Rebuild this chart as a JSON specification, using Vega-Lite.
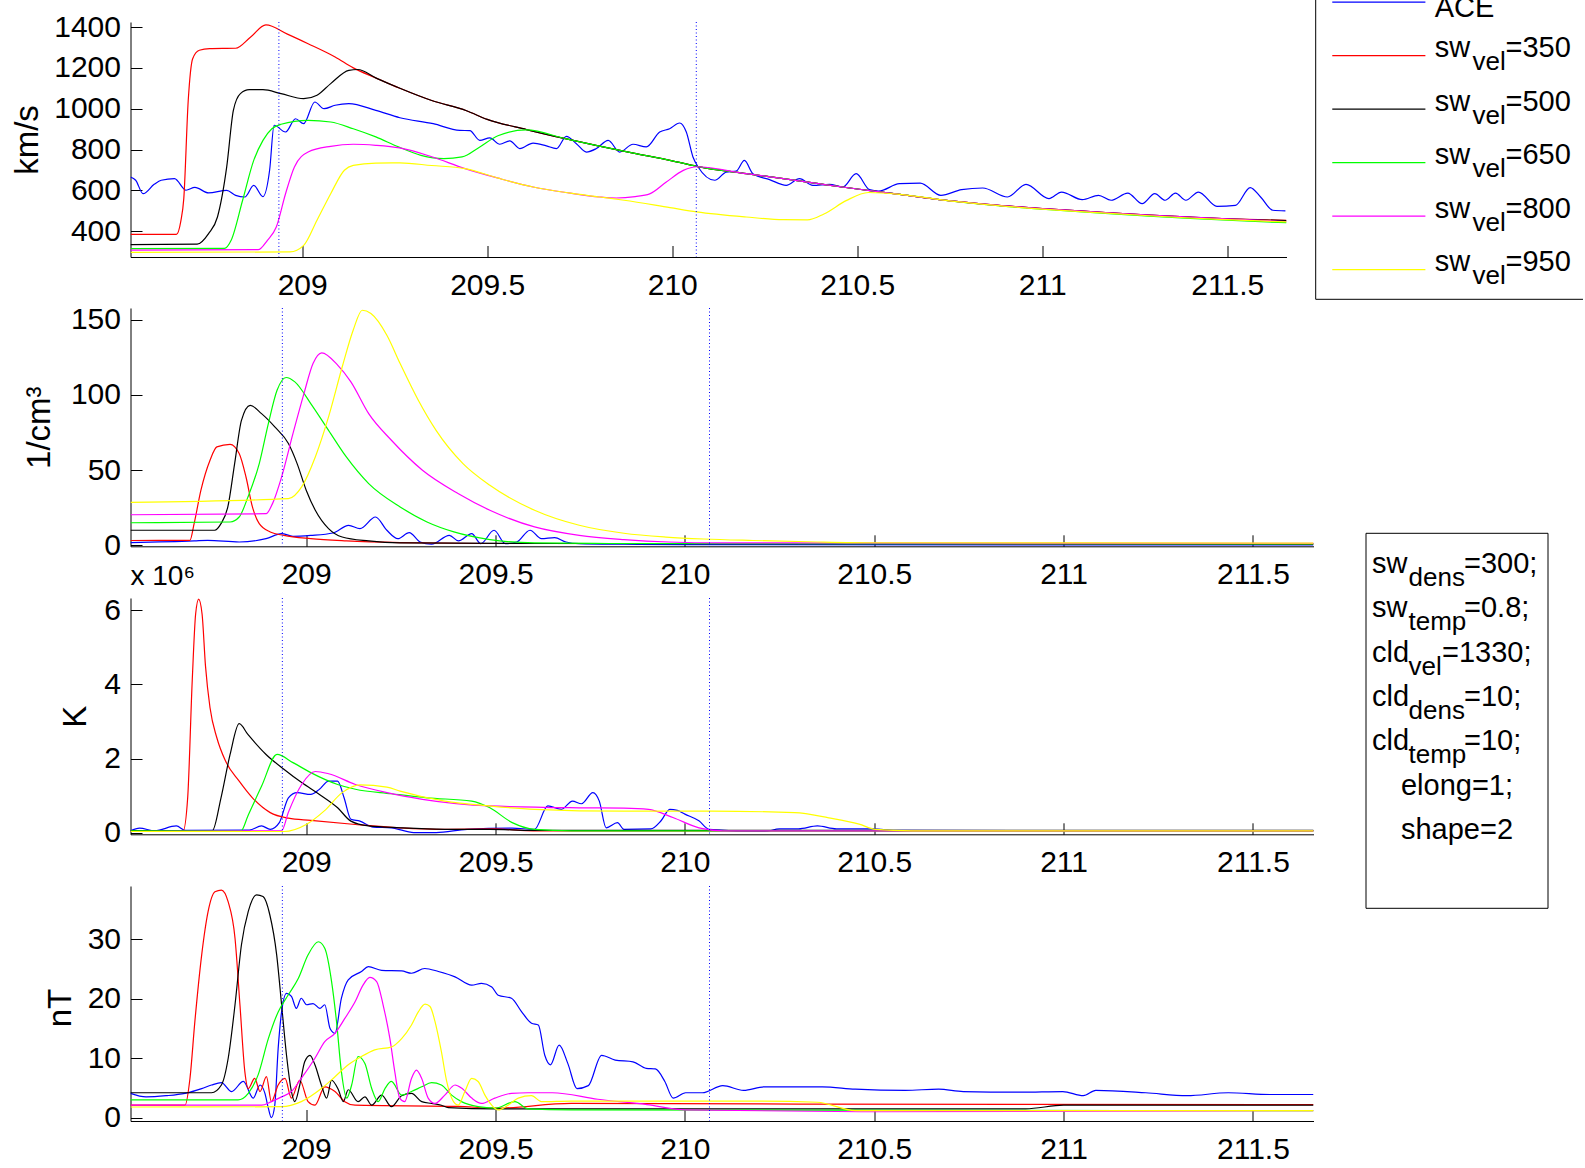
{
  "$schema": "https://vega.github.io/schema/vega-lite/v6.json",
  "background": "white",
  "padding": {"left": 10.5, "top": -10, "right": 0, "bottom": 0},
  "bounds": "flush",
  "spacing": 51,
  "config": {
    "font": "Liberation Sans",
    "view": {"stroke": null},
    "axis": {
      "domainColor": "#000000", "tickColor": "#000000", "labelColor": "#000000", "titleColor": "#000000",
      "labelFont": "Liberation Sans", "titleFont": "Liberation Sans",
      "labelFontSize": 30, "titleFontSize": 33, "titleFontWeight": "normal",
      "grid": false, "tickSize": -11.5, "tickWidth": 1, "domainWidth": 1,
      "labelFlush": false, "labelOverlap": false
    },
    "axisX": {"labelPadding": 25},
    "axisY": {"labelPadding": 21.5},
    "text": {"color": "#000000", "font": "Liberation Sans"}
  },
  "datasets": {
    "crossings": [{"t": 208.937}, {"t": 210.065}],
    "legendRows": [
      {"s": "ACE", "a": "ACE"},
      {"s": "350", "a": "sw", "b": "vel", "c": "=350"},
      {"s": "500", "a": "sw", "b": "vel", "c": "=500"},
      {"s": "650", "a": "sw", "b": "vel", "c": "=650"},
      {"s": "800", "a": "sw", "b": "vel", "c": "=800"},
      {"s": "950", "a": "sw", "b": "vel", "c": "=950"}
    ],
    "boxLines": [
      {"line": 1, "a": "sw", "b": "dens", "c": "=300;"},
      {"line": 2, "a": "sw", "b": "temp", "c": "=0.8;"},
      {"line": 3, "a": "cld", "b": "vel", "c": "=1330;"},
      {"line": 4, "a": "cld", "b": "dens", "c": "=10;"},
      {"line": 5, "a": "cld", "b": "temp", "c": "=10;"},
      {"line": 6, "full": "elong=1;"},
      {"line": 7, "full": "shape=2"}
    ],
    "vel": [
      {"s":"ACE","t":208.536,"y":666},{"s":"ACE","t":208.55,"y":650},{"s":"ACE","t":208.57,"y":584},{"s":"ACE","t":208.6,"y":630},{"s":"ACE","t":208.619,"y":650},{"s":"ACE","t":208.655,"y":658},{"s":"ACE","t":208.686,"y":601},{"s":"ACE","t":208.71,"y":615},{"s":"ACE","t":208.747,"y":588},{"s":"ACE","t":208.796,"y":600},{"s":"ACE","t":208.82,"y":576},{"s":"ACE","t":208.845,"y":568},{"s":"ACE","t":208.869,"y":625},{"s":"ACE","t":208.894,"y":570},{"s":"ACE","t":208.912,"y":700},{"s":"ACE","t":208.924,"y":919},{"s":"ACE","t":208.955,"y":886},{"s":"ACE","t":208.982,"y":951},{"s":"ACE","t":209.004,"y":927},{"s":"ACE","t":209.034,"y":1033},{"s":"ACE","t":209.059,"y":1000},{"s":"ACE","t":209.089,"y":1017},{"s":"ACE","t":209.126,"y":1025},{"s":"ACE","t":209.199,"y":992},{"s":"ACE","t":209.264,"y":956},{"s":"ACE","t":209.354,"y":927},{"s":"ACE","t":209.426,"y":894},{"s":"ACE","t":209.453,"y":893},{"s":"ACE","t":209.48,"y":845},{"s":"ACE","t":209.507,"y":857},{"s":"ACE","t":209.534,"y":826},{"s":"ACE","t":209.561,"y":843},{"s":"ACE","t":209.588,"y":805},{"s":"ACE","t":209.624,"y":832},{"s":"ACE","t":209.66,"y":818},{"s":"ACE","t":209.687,"y":805},{"s":"ACE","t":209.714,"y":865},{"s":"ACE","t":209.741,"y":829},{"s":"ACE","t":209.768,"y":788},{"s":"ACE","t":209.795,"y":805},{"s":"ACE","t":209.827,"y":845},{"s":"ACE","t":209.858,"y":788},{"s":"ACE","t":209.894,"y":826},{"s":"ACE","t":209.93,"y":813},{"s":"ACE","t":209.966,"y":886},{"s":"ACE","t":209.993,"y":902},{"s":"ACE","t":210.02,"y":930},{"s":"ACE","t":210.038,"y":886},{"s":"ACE","t":210.056,"y":764},{"s":"ACE","t":210.07,"y":715},{"s":"ACE","t":210.115,"y":650},{"s":"ACE","t":210.146,"y":690},{"s":"ACE","t":210.173,"y":695},{"s":"ACE","t":210.195,"y":747},{"s":"ACE","t":210.218,"y":682},{"s":"ACE","t":210.263,"y":653},{"s":"ACE","t":210.308,"y":625},{"s":"ACE","t":210.344,"y":658},{"s":"ACE","t":210.38,"y":625},{"s":"ACE","t":210.425,"y":630},{"s":"ACE","t":210.461,"y":617},{"s":"ACE","t":210.497,"y":682},{"s":"ACE","t":210.533,"y":604},{"s":"ACE","t":210.558,"y":597},{"s":"ACE","t":210.614,"y":633},{"s":"ACE","t":210.67,"y":636},{"s":"ACE","t":210.726,"y":576},{"s":"ACE","t":210.782,"y":604},{"s":"ACE","t":210.839,"y":612},{"s":"ACE","t":210.906,"y":568},{"s":"ACE","t":210.956,"y":630},{"s":"ACE","t":211.018,"y":560},{"s":"ACE","t":211.052,"y":592},{"s":"ACE","t":211.108,"y":555},{"s":"ACE","t":211.152,"y":576},{"s":"ACE","t":211.186,"y":552},{"s":"ACE","t":211.231,"y":587},{"s":"ACE","t":211.27,"y":535},{"s":"ACE","t":211.304,"y":584},{"s":"ACE","t":211.332,"y":552},{"s":"ACE","t":211.36,"y":587},{"s":"ACE","t":211.388,"y":552},{"s":"ACE","t":211.422,"y":592},{"s":"ACE","t":211.472,"y":522},{"s":"ACE","t":211.522,"y":527},{"s":"ACE","t":211.562,"y":614},{"s":"ACE","t":211.59,"y":568},{"s":"ACE","t":211.623,"y":503},{"s":"ACE","t":211.657,"y":500},
      {"s":"350","t":208.536,"y":385},{"s":"350","t":208.66,"y":385},{"s":"350","t":208.672,"y":450},{"s":"350","t":208.68,"y":560},{"s":"350","t":208.692,"y":1040},{"s":"350","t":208.704,"y":1245},{"s":"350","t":208.722,"y":1286},{"s":"350","t":208.75,"y":1294},{"s":"350","t":208.82,"y":1296},{"s":"350","t":208.86,"y":1350},{"s":"350","t":208.902,"y":1410},{"s":"350","t":208.96,"y":1365},{"s":"350","t":209.016,"y":1318},{"s":"350","t":209.089,"y":1253},{"s":"350","t":209.138,"y":1200},{"s":"350","t":209.2,"y":1150},{"s":"350","t":209.264,"y":1100},{"s":"350","t":209.35,"y":1040},{"s":"350","t":209.444,"y":990},{"s":"350","t":209.5,"y":948},{"s":"350","t":209.606,"y":898},{"s":"350","t":209.714,"y":852},{"s":"350","t":209.8,"y":818},{"s":"350","t":209.895,"y":783},{"s":"350","t":210.0,"y":745},{"s":"350","t":210.066,"y":718},{"s":"350","t":210.2,"y":682},{"s":"350","t":210.3,"y":658},{"s":"350","t":210.4,"y":632},{"s":"350","t":210.5,"y":607},{"s":"350","t":210.56,"y":593},{"s":"350","t":210.615,"y":581},{"s":"350","t":210.728,"y":554},{"s":"350","t":210.85,"y":532},{"s":"350","t":211.0,"y":511},{"s":"350","t":211.15,"y":494},{"s":"350","t":211.289,"y":479},{"s":"350","t":211.4,"y":469},{"s":"350","t":211.5,"y":461},{"s":"350","t":211.66,"y":454},
      {"s":"500","t":208.536,"y":335},{"s":"500","t":208.716,"y":337},{"s":"500","t":208.747,"y":389},{"s":"500","t":208.771,"y":470},{"s":"500","t":208.796,"y":715},{"s":"500","t":208.814,"y":992},{"s":"500","t":208.833,"y":1074},{"s":"500","t":208.857,"y":1093},{"s":"500","t":208.894,"y":1093},{"s":"500","t":208.943,"y":1074},{"s":"500","t":209.004,"y":1049},{"s":"500","t":209.04,"y":1066},{"s":"500","t":209.077,"y":1123},{"s":"500","t":209.126,"y":1188},{"s":"500","t":209.15,"y":1192},{"s":"500","t":209.2,"y":1150},{"s":"500","t":209.264,"y":1100},{"s":"500","t":209.35,"y":1040},{"s":"500","t":209.444,"y":990},{"s":"500","t":209.5,"y":948},{"s":"500","t":209.606,"y":898},{"s":"500","t":209.714,"y":852},{"s":"500","t":209.8,"y":818},{"s":"500","t":209.895,"y":783},{"s":"500","t":210.0,"y":745},{"s":"500","t":210.066,"y":718},{"s":"500","t":210.2,"y":682},{"s":"500","t":210.3,"y":658},{"s":"500","t":210.4,"y":632},{"s":"500","t":210.5,"y":607},{"s":"500","t":210.56,"y":593},{"s":"500","t":210.615,"y":581},{"s":"500","t":210.728,"y":554},{"s":"500","t":210.85,"y":532},{"s":"500","t":211.0,"y":511},{"s":"500","t":211.15,"y":494},{"s":"500","t":211.289,"y":479},{"s":"500","t":211.4,"y":469},{"s":"500","t":211.5,"y":461},{"s":"500","t":211.66,"y":452},
      {"s":"650","t":208.536,"y":315},{"s":"650","t":208.79,"y":316},{"s":"650","t":208.808,"y":356},{"s":"650","t":208.839,"y":552},{"s":"650","t":208.869,"y":747},{"s":"650","t":208.894,"y":845},{"s":"650","t":208.918,"y":902},{"s":"650","t":208.943,"y":924},{"s":"650","t":209.016,"y":943},{"s":"650","t":209.077,"y":935},{"s":"650","t":209.138,"y":902},{"s":"650","t":209.199,"y":862},{"s":"650","t":209.26,"y":813},{"s":"650","t":209.321,"y":772},{"s":"650","t":209.383,"y":756},{"s":"650","t":209.432,"y":764},{"s":"650","t":209.48,"y":813},{"s":"650","t":209.529,"y":868},{"s":"650","t":209.606,"y":896},{"s":"650","t":209.714,"y":852},{"s":"650","t":209.8,"y":818},{"s":"650","t":209.895,"y":783},{"s":"650","t":210.0,"y":745},{"s":"650","t":210.066,"y":718},{"s":"650","t":210.2,"y":682},{"s":"650","t":210.3,"y":658},{"s":"650","t":210.4,"y":632},{"s":"650","t":210.5,"y":607},{"s":"650","t":210.56,"y":593},{"s":"650","t":210.615,"y":581},{"s":"650","t":210.728,"y":554},{"s":"650","t":210.85,"y":530},{"s":"650","t":211.0,"y":508},{"s":"650","t":211.15,"y":490},{"s":"650","t":211.289,"y":474},{"s":"650","t":211.4,"y":463},{"s":"650","t":211.5,"y":454},{"s":"650","t":211.66,"y":442},
      {"s":"800","t":208.536,"y":308},{"s":"800","t":208.881,"y":310},{"s":"800","t":208.906,"y":356},{"s":"800","t":208.93,"y":421},{"s":"800","t":208.955,"y":584},{"s":"800","t":208.979,"y":715},{"s":"800","t":209.016,"y":788},{"s":"800","t":209.077,"y":816},{"s":"800","t":209.138,"y":826},{"s":"800","t":209.199,"y":821},{"s":"800","t":209.264,"y":808},{"s":"800","t":209.35,"y":765},{"s":"800","t":209.44,"y":707},{"s":"800","t":209.53,"y":660},{"s":"800","t":209.624,"y":617},{"s":"800","t":209.72,"y":588},{"s":"800","t":209.804,"y":568},{"s":"800","t":209.849,"y":563},{"s":"800","t":209.9,"y":570},{"s":"800","t":209.939,"y":583},{"s":"800","t":209.984,"y":641},{"s":"800","t":210.03,"y":698},{"s":"800","t":210.066,"y":716},{"s":"800","t":210.2,"y":682},{"s":"800","t":210.3,"y":658},{"s":"800","t":210.4,"y":632},{"s":"800","t":210.5,"y":607},{"s":"800","t":210.56,"y":593},{"s":"800","t":210.615,"y":581},{"s":"800","t":210.728,"y":554},{"s":"800","t":210.85,"y":532},{"s":"800","t":211.0,"y":511},{"s":"800","t":211.15,"y":494},{"s":"800","t":211.289,"y":479},{"s":"800","t":211.4,"y":469},{"s":"800","t":211.5,"y":461},{"s":"800","t":211.66,"y":448},
      {"s":"950","t":208.536,"y":297},{"s":"950","t":208.967,"y":299},{"s":"950","t":209.004,"y":331},{"s":"950","t":209.04,"y":454},{"s":"950","t":209.077,"y":584},{"s":"950","t":209.114,"y":699},{"s":"950","t":209.138,"y":723},{"s":"950","t":209.199,"y":734},{"s":"950","t":209.264,"y":735},{"s":"950","t":209.35,"y":722},{"s":"950","t":209.44,"y":707},{"s":"950","t":209.53,"y":660},{"s":"950","t":209.624,"y":617},{"s":"950","t":209.72,"y":588},{"s":"950","t":209.804,"y":568},{"s":"950","t":209.87,"y":552},{"s":"950","t":209.994,"y":516},{"s":"950","t":210.066,"y":495},{"s":"950","t":210.2,"y":470},{"s":"950","t":210.3,"y":457},{"s":"950","t":210.365,"y":456},{"s":"950","t":210.41,"y":485},{"s":"950","t":210.47,"y":550},{"s":"950","t":210.53,"y":590},{"s":"950","t":210.615,"y":581},{"s":"950","t":210.728,"y":554},{"s":"950","t":210.85,"y":531},{"s":"950","t":211.0,"y":509},{"s":"950","t":211.15,"y":491},{"s":"950","t":211.289,"y":476},{"s":"950","t":211.4,"y":465},{"s":"950","t":211.5,"y":457},{"s":"950","t":211.66,"y":446}
    ],
    "dens": [
      {"s":"ACE","t":208.536,"y":1.8},{"s":"ACE","t":208.704,"y":2.9},{"s":"ACE","t":208.74,"y":3.3},{"s":"ACE","t":208.823,"y":2.2},{"s":"ACE","t":208.894,"y":4.4},{"s":"ACE","t":208.935,"y":7.8},{"s":"ACE","t":208.965,"y":6},{"s":"ACE","t":209.012,"y":6.6},{"s":"ACE","t":209.071,"y":8.2},{"s":"ACE","t":209.112,"y":13.3},{"s":"ACE","t":209.142,"y":11.1},{"s":"ACE","t":209.183,"y":18.8},{"s":"ACE","t":209.213,"y":10},{"s":"ACE","t":209.242,"y":4.4},{"s":"ACE","t":209.272,"y":8.4},{"s":"ACE","t":209.301,"y":2.2},{"s":"ACE","t":209.331,"y":0.7},{"s":"ACE","t":209.378,"y":6.6},{"s":"ACE","t":209.402,"y":2.9},{"s":"ACE","t":209.437,"y":7.8},{"s":"ACE","t":209.461,"y":1.1},{"s":"ACE","t":209.496,"y":10},{"s":"ACE","t":209.526,"y":1.1},{"s":"ACE","t":209.556,"y":2.2},{"s":"ACE","t":209.591,"y":10},{"s":"ACE","t":209.621,"y":4.4},{"s":"ACE","t":209.656,"y":5.1},{"s":"ACE","t":209.686,"y":2.2},{"s":"ACE","t":209.721,"y":1.1},{"s":"ACE","t":209.839,"y":0.7},{"s":"ACE","t":210.0,"y":0.4},{"s":"ACE","t":211.66,"y":0.3},
      {"s":"350","t":208.536,"y":3.2},{"s":"350","t":208.693,"y":3.3},{"s":"350","t":208.704,"y":14.4},{"s":"350","t":208.722,"y":36.6},{"s":"350","t":208.746,"y":56.5},{"s":"350","t":208.764,"y":65.4},{"s":"350","t":208.799,"y":67.1},{"s":"350","t":208.823,"y":61},{"s":"350","t":208.841,"y":45.4},{"s":"350","t":208.858,"y":25.5},{"s":"350","t":208.876,"y":14.4},{"s":"350","t":208.905,"y":8.9},{"s":"350","t":208.941,"y":6.6},{"s":"350","t":209.012,"y":4.4},{"s":"350","t":209.106,"y":2.9},{"s":"350","t":209.248,"y":1.8},{"s":"350","t":209.5,"y":1.2},{"s":"350","t":210.4,"y":1.2},{"s":"350","t":211.66,"y":1.0},
      {"s":"500","t":208.536,"y":10},{"s":"500","t":208.758,"y":10},{"s":"500","t":208.775,"y":14.4},{"s":"500","t":208.793,"y":25.5},{"s":"500","t":208.811,"y":54.3},{"s":"500","t":208.829,"y":83},{"s":"500","t":208.852,"y":93},{"s":"500","t":208.882,"y":87.5},{"s":"500","t":208.917,"y":78.7},{"s":"500","t":208.953,"y":67.6},{"s":"500","t":208.976,"y":54.3},{"s":"500","t":209.0,"y":36.6},{"s":"500","t":209.024,"y":23.3},{"s":"500","t":209.059,"y":11.1},{"s":"500","t":209.095,"y":5.5},{"s":"500","t":209.165,"y":2.9},{"s":"500","t":209.248,"y":1.6},{"s":"500","t":209.6,"y":1.2},{"s":"500","t":211.66,"y":1.0},
      {"s":"650","t":208.536,"y":15},{"s":"650","t":208.799,"y":15.5},{"s":"650","t":208.823,"y":18.8},{"s":"650","t":208.846,"y":32},{"s":"650","t":208.876,"y":54.3},{"s":"650","t":208.9,"y":80.9},{"s":"650","t":208.923,"y":103},{"s":"650","t":208.947,"y":111.5},{"s":"650","t":208.97,"y":108.6},{"s":"650","t":209.012,"y":94.2},{"s":"650","t":209.059,"y":76.4},{"s":"650","t":209.106,"y":58.7},{"s":"650","t":209.165,"y":41},{"s":"650","t":209.248,"y":25.5},{"s":"650","t":209.319,"y":15.5},{"s":"650","t":209.39,"y":8.9},{"s":"650","t":209.485,"y":3.8},{"s":"650","t":209.603,"y":1.6},{"s":"650","t":209.8,"y":1.2},{"s":"650","t":211.66,"y":1.0},
      {"s":"800","t":208.536,"y":20.3},{"s":"800","t":208.894,"y":21},{"s":"800","t":208.911,"y":27.7},{"s":"800","t":208.935,"y":45.4},{"s":"800","t":208.965,"y":74.2},{"s":"800","t":208.994,"y":100.8},{"s":"800","t":209.018,"y":120.8},{"s":"800","t":209.041,"y":127.9},{"s":"800","t":209.083,"y":119.7},{"s":"800","t":209.118,"y":108.6},{"s":"800","t":209.165,"y":87.5},{"s":"800","t":209.225,"y":69.8},{"s":"800","t":209.307,"y":49.9},{"s":"800","t":209.402,"y":34.3},{"s":"800","t":209.485,"y":23.3},{"s":"800","t":209.603,"y":12.2},{"s":"800","t":209.721,"y":6.6},{"s":"800","t":209.839,"y":3.8},{"s":"800","t":209.957,"y":2.2},{"s":"800","t":210.1,"y":1.6},{"s":"800","t":211.66,"y":1.3},
      {"s":"950","t":208.536,"y":28.5},{"s":"950","t":208.953,"y":31},{"s":"950","t":208.988,"y":38.8},{"s":"950","t":209.024,"y":58.7},{"s":"950","t":209.059,"y":85.3},{"s":"950","t":209.095,"y":118.5},{"s":"950","t":209.124,"y":142.9},{"s":"950","t":209.148,"y":156.2},{"s":"950","t":209.171,"y":154},{"s":"950","t":209.213,"y":139.6},{"s":"950","t":209.248,"y":120.8},{"s":"950","t":209.296,"y":96.4},{"s":"950","t":209.343,"y":76.4},{"s":"950","t":209.414,"y":54.3},{"s":"950","t":209.485,"y":39.9},{"s":"950","t":209.603,"y":23.3},{"s":"950","t":209.721,"y":13.3},{"s":"950","t":209.839,"y":8},{"s":"950","t":209.95,"y":5.5},{"s":"950","t":210.05,"y":4.2},{"s":"950","t":210.18,"y":3.2},{"s":"950","t":210.35,"y":2.2},{"s":"950","t":210.5,"y":1.7},{"s":"950","t":211.66,"y":1.5}
    ],
    "temp": [
      {"s":"ACE","t":208.536,"y":0.05},{"s":"ACE","t":208.56,"y":0.12},{"s":"ACE","t":208.6,"y":0.05},{"s":"ACE","t":208.657,"y":0.18},{"s":"ACE","t":208.681,"y":0.06},{"s":"ACE","t":208.85,"y":0.07},{"s":"ACE","t":208.882,"y":0.18},{"s":"ACE","t":208.905,"y":0.09},{"s":"ACE","t":208.929,"y":0.27},{"s":"ACE","t":208.953,"y":0.94},{"s":"ACE","t":208.976,"y":1.08},{"s":"ACE","t":209.012,"y":1.03},{"s":"ACE","t":209.035,"y":1.17},{"s":"ACE","t":209.059,"y":1.39},{"s":"ACE","t":209.083,"y":1.39},{"s":"ACE","t":209.1,"y":0.94},{"s":"ACE","t":209.118,"y":0.36},{"s":"ACE","t":209.142,"y":0.31},{"s":"ACE","t":209.177,"y":0.15},{"s":"ACE","t":209.225,"y":0.13},{"s":"ACE","t":209.284,"y":0.0},{"s":"ACE","t":209.343,"y":0.0},{"s":"ACE","t":209.425,"y":0.09},{"s":"ACE","t":209.544,"y":0.12},{"s":"ACE","t":209.603,"y":0.09},{"s":"ACE","t":209.638,"y":0.72},{"s":"ACE","t":209.674,"y":0.63},{"s":"ACE","t":209.703,"y":0.85},{"s":"ACE","t":209.727,"y":0.78},{"s":"ACE","t":209.757,"y":1.08},{"s":"ACE","t":209.774,"y":0.85},{"s":"ACE","t":209.792,"y":0.13},{"s":"ACE","t":209.822,"y":0.27},{"s":"ACE","t":209.839,"y":0.09},{"s":"ACE","t":209.91,"y":0.1},{"s":"ACE","t":209.937,"y":0.32},{"s":"ACE","t":209.96,"y":0.63},{"s":"ACE","t":209.98,"y":0.6},{"s":"ACE","t":210.0,"y":0.5},{"s":"ACE","t":210.037,"y":0.32},{"s":"ACE","t":210.064,"y":0.09},{"s":"ACE","t":210.21,"y":0.03},{"s":"ACE","t":210.25,"y":0.1},{"s":"ACE","t":210.3,"y":0.1},{"s":"ACE","t":210.35,"y":0.18},{"s":"ACE","t":210.4,"y":0.1},{"s":"ACE","t":210.5,"y":0.1},{"s":"ACE","t":210.55,"y":0.06},{"s":"ACE","t":211.66,"y":0.05},
      {"s":"350","t":208.536,"y":0.05},{"s":"350","t":208.675,"y":0.05},{"s":"350","t":208.687,"y":0.94},{"s":"350","t":208.699,"y":4.1},{"s":"350","t":208.708,"y":5.9},{"s":"350","t":208.716,"y":6.3},{"s":"350","t":208.725,"y":5.9},{"s":"350","t":208.734,"y":4.5},{"s":"350","t":208.746,"y":3.37},{"s":"350","t":208.764,"y":2.56},{"s":"350","t":208.787,"y":1.93},{"s":"350","t":208.823,"y":1.39},{"s":"350","t":208.858,"y":0.94},{"s":"350","t":208.905,"y":0.54},{"s":"350","t":208.953,"y":0.39},{"s":"350","t":209.012,"y":0.33},{"s":"350","t":209.13,"y":0.22},{"s":"350","t":209.248,"y":0.13},{"s":"350","t":209.366,"y":0.09},{"s":"350","t":209.5,"y":0.1},{"s":"350","t":209.6,"y":0.05},{"s":"350","t":211.66,"y":0.05},
      {"s":"500","t":208.536,"y":0.05},{"s":"500","t":208.752,"y":0.05},{"s":"500","t":208.775,"y":0.94},{"s":"500","t":208.799,"y":2.11},{"s":"500","t":208.823,"y":2.94},{"s":"500","t":208.846,"y":2.65},{"s":"500","t":208.894,"y":2.11},{"s":"500","t":208.941,"y":1.71},{"s":"500","t":208.988,"y":1.35},{"s":"500","t":209.035,"y":1.03},{"s":"500","t":209.083,"y":0.67},{"s":"500","t":209.118,"y":0.31},{"s":"500","t":209.165,"y":0.18},{"s":"500","t":209.248,"y":0.13},{"s":"500","t":209.366,"y":0.09},{"s":"500","t":209.485,"y":0.09},{"s":"500","t":209.6,"y":0.06},{"s":"500","t":211.66,"y":0.06},
      {"s":"650","t":208.536,"y":0.05},{"s":"650","t":208.828,"y":0.05},{"s":"650","t":208.846,"y":0.45},{"s":"650","t":208.882,"y":1.25},{"s":"650","t":208.923,"y":2.11},{"s":"650","t":208.965,"y":1.89},{"s":"650","t":209.012,"y":1.62},{"s":"650","t":209.083,"y":1.3},{"s":"650","t":209.13,"y":1.17},{"s":"650","t":209.225,"y":1.05},{"s":"650","t":209.319,"y":0.94},{"s":"650","t":209.437,"y":0.85},{"s":"650","t":209.485,"y":0.67},{"s":"650","t":209.544,"y":0.27},{"s":"650","t":209.603,"y":0.09},{"s":"650","t":209.7,"y":0.05},{"s":"650","t":211.66,"y":0.05},
      {"s":"800","t":208.536,"y":0.03},{"s":"800","t":208.935,"y":0.05},{"s":"800","t":208.953,"y":0.55},{"s":"800","t":208.988,"y":1.3},{"s":"800","t":209.024,"y":1.65},{"s":"800","t":209.059,"y":1.59},{"s":"800","t":209.13,"y":1.3},{"s":"800","t":209.213,"y":1.08},{"s":"800","t":209.307,"y":0.9},{"s":"800","t":209.485,"y":0.72},{"s":"800","t":209.721,"y":0.67},{"s":"800","t":209.839,"y":0.66},{"s":"800","t":209.904,"y":0.63},{"s":"800","t":209.97,"y":0.4},{"s":"800","t":210.037,"y":0.13},{"s":"800","t":210.1,"y":0.05},{"s":"800","t":211.66,"y":0.05},
      {"s":"950","t":208.536,"y":0.03},{"s":"950","t":208.941,"y":0.03},{"s":"950","t":209.0,"y":0.22},{"s":"950","t":209.047,"y":0.58},{"s":"950","t":209.095,"y":1.08},{"s":"950","t":209.142,"y":1.29},{"s":"950","t":209.213,"y":1.23},{"s":"950","t":209.248,"y":1.12},{"s":"950","t":209.366,"y":0.85},{"s":"950","t":209.485,"y":0.72},{"s":"950","t":209.603,"y":0.63},{"s":"950","t":209.839,"y":0.58},{"s":"950","t":210.07,"y":0.58},{"s":"950","t":210.29,"y":0.54},{"s":"950","t":210.38,"y":0.4},{"s":"950","t":210.46,"y":0.23},{"s":"950","t":210.503,"y":0.09},{"s":"950","t":210.6,"y":0.05},{"s":"950","t":211.66,"y":0.05}
    ],
    "mag": [
      {"s":"ACE","t":208.536,"y":4.1},{"s":"ACE","t":208.577,"y":3.5},{"s":"ACE","t":208.63,"y":3.7},{"s":"ACE","t":208.68,"y":4.1},{"s":"ACE","t":208.724,"y":4.9},{"s":"ACE","t":208.75,"y":5.5},{"s":"ACE","t":208.776,"y":5.9},{"s":"ACE","t":208.803,"y":4.4},{"s":"ACE","t":208.834,"y":6.1},{"s":"ACE","t":208.86,"y":3.3},{"s":"ACE","t":208.878,"y":5.5},{"s":"ACE","t":208.891,"y":4.1},{"s":"ACE","t":208.9,"y":1.6},{"s":"ACE","t":208.908,"y":0.0},{"s":"ACE","t":208.917,"y":2.1},{"s":"ACE","t":208.926,"y":11.7},{"s":"ACE","t":208.935,"y":17.8},{"s":"ACE","t":208.948,"y":20.9},{"s":"ACE","t":208.961,"y":20.4},{"s":"ACE","t":208.974,"y":18.4},{"s":"ACE","t":208.987,"y":20.1},{"s":"ACE","t":209.001,"y":19},{"s":"ACE","t":209.018,"y":19.2},{"s":"ACE","t":209.036,"y":18.4},{"s":"ACE","t":209.049,"y":19},{"s":"ACE","t":209.063,"y":15},{"s":"ACE","t":209.076,"y":14.2},{"s":"ACE","t":209.093,"y":20.1},{"s":"ACE","t":209.111,"y":23.2},{"s":"ACE","t":209.146,"y":24.6},{"s":"ACE","t":209.164,"y":25.4},{"s":"ACE","t":209.199,"y":24.8},{"s":"ACE","t":209.252,"y":24.7},{"s":"ACE","t":209.278,"y":24.3},{"s":"ACE","t":209.313,"y":25.1},{"s":"ACE","t":209.349,"y":24.6},{"s":"ACE","t":209.393,"y":23.7},{"s":"ACE","t":209.437,"y":22.3},{"s":"ACE","t":209.463,"y":22.6},{"s":"ACE","t":209.49,"y":22},{"s":"ACE","t":209.507,"y":20.6},{"s":"ACE","t":209.542,"y":20.1},{"s":"ACE","t":209.569,"y":17.8},{"s":"ACE","t":209.595,"y":15.9},{"s":"ACE","t":209.613,"y":15.6},{"s":"ACE","t":209.63,"y":10.5},{"s":"ACE","t":209.645,"y":8.9},{"s":"ACE","t":209.668,"y":12.2},{"s":"ACE","t":209.691,"y":9.1},{"s":"ACE","t":209.715,"y":4.9},{"s":"ACE","t":209.745,"y":5.4},{"s":"ACE","t":209.78,"y":10.5},{"s":"ACE","t":209.816,"y":9.7},{"s":"ACE","t":209.863,"y":9.4},{"s":"ACE","t":209.898,"y":8.3},{"s":"ACE","t":209.922,"y":8.2},{"s":"ACE","t":209.947,"y":6.1},{"s":"ACE","t":209.969,"y":3.3},{"s":"ACE","t":210.002,"y":4.2},{"s":"ACE","t":210.046,"y":4.2},{"s":"ACE","t":210.1,"y":5.4},{"s":"ACE","t":210.155,"y":4.6},{"s":"ACE","t":210.21,"y":5.2},{"s":"ACE","t":210.363,"y":5.2},{"s":"ACE","t":210.45,"y":4.8},{"s":"ACE","t":210.582,"y":4.6},{"s":"ACE","t":210.67,"y":4.8},{"s":"ACE","t":210.735,"y":4.4},{"s":"ACE","t":210.888,"y":4.3},{"s":"ACE","t":210.998,"y":4.4},{"s":"ACE","t":211.052,"y":3.7},{"s":"ACE","t":211.085,"y":4.6},{"s":"ACE","t":211.217,"y":4.2},{"s":"ACE","t":211.326,"y":3.7},{"s":"ACE","t":211.435,"y":4.2},{"s":"ACE","t":211.545,"y":3.9},{"s":"ACE","t":211.66,"y":3.9},
      {"s":"350","t":208.536,"y":2.1},{"s":"350","t":208.68,"y":2.1},{"s":"350","t":208.693,"y":6.6},{"s":"350","t":208.706,"y":16.2},{"s":"350","t":208.724,"y":27.4},{"s":"350","t":208.741,"y":34.7},{"s":"350","t":208.759,"y":38},{"s":"350","t":208.776,"y":38.3},{"s":"350","t":208.794,"y":36.3},{"s":"350","t":208.812,"y":30.2},{"s":"350","t":208.825,"y":19},{"s":"350","t":208.838,"y":7.7},{"s":"350","t":208.847,"y":4.9},{"s":"350","t":208.864,"y":6.6},{"s":"350","t":208.878,"y":4.4},{"s":"350","t":208.895,"y":6.9},{"s":"350","t":208.908,"y":2.7},{"s":"350","t":208.926,"y":5.5},{"s":"350","t":208.944,"y":6.6},{"s":"350","t":208.961,"y":3.3},{"s":"350","t":208.983,"y":6.3},{"s":"350","t":209.005,"y":2.7},{"s":"350","t":209.023,"y":2.1},{"s":"350","t":209.049,"y":5.2},{"s":"350","t":209.076,"y":4.4},{"s":"350","t":209.102,"y":2.7},{"s":"350","t":209.129,"y":2.1},{"s":"350","t":209.4,"y":1.9},{"s":"350","t":209.5,"y":1.6},{"s":"350","t":209.7,"y":2.4},{"s":"350","t":210.3,"y":2.3},{"s":"350","t":211.66,"y":2.2},
      {"s":"500","t":208.536,"y":4.2},{"s":"500","t":208.75,"y":4.2},{"s":"500","t":208.776,"y":5.5},{"s":"500","t":208.794,"y":10},{"s":"500","t":208.812,"y":19},{"s":"500","t":208.829,"y":29.1},{"s":"500","t":208.847,"y":34.7},{"s":"500","t":208.869,"y":37.5},{"s":"500","t":208.886,"y":37.2},{"s":"500","t":208.904,"y":34.1},{"s":"500","t":208.922,"y":27.4},{"s":"500","t":208.935,"y":19},{"s":"500","t":208.948,"y":10.5},{"s":"500","t":208.961,"y":4.4},{"s":"500","t":208.97,"y":2.7},{"s":"500","t":208.983,"y":5.5},{"s":"500","t":208.996,"y":9.4},{"s":"500","t":209.01,"y":10.5},{"s":"500","t":209.023,"y":8.9},{"s":"500","t":209.04,"y":5.5},{"s":"500","t":209.054,"y":3.3},{"s":"500","t":209.067,"y":6.3},{"s":"500","t":209.085,"y":4.7},{"s":"500","t":209.098,"y":2.7},{"s":"500","t":209.111,"y":4.7},{"s":"500","t":209.137,"y":2.7},{"s":"500","t":209.155,"y":3.5},{"s":"500","t":209.173,"y":2.1},{"s":"500","t":209.199,"y":3.8},{"s":"500","t":209.225,"y":1.85},{"s":"500","t":209.252,"y":3.7},{"s":"500","t":209.278,"y":4.1},{"s":"500","t":209.305,"y":2.7},{"s":"500","t":209.331,"y":2.4},{"s":"500","t":209.357,"y":2.1},{"s":"500","t":209.375,"y":1.7},{"s":"500","t":209.5,"y":1.5},{"s":"500","t":210.9,"y":1.5},{"s":"500","t":211.0,"y":2.1},{"s":"500","t":211.66,"y":2.1},
      {"s":"650","t":208.536,"y":3.0},{"s":"650","t":208.82,"y":3.0},{"s":"650","t":208.847,"y":4.1},{"s":"650","t":208.873,"y":7.2},{"s":"650","t":208.9,"y":13.3},{"s":"650","t":208.926,"y":17.8},{"s":"650","t":208.952,"y":20.6},{"s":"650","t":208.979,"y":23.4},{"s":"650","t":209.005,"y":27.4},{"s":"650","t":209.032,"y":29.6},{"s":"650","t":209.049,"y":28.5},{"s":"650","t":209.067,"y":22.9},{"s":"650","t":209.08,"y":16.2},{"s":"650","t":209.093,"y":7.7},{"s":"650","t":209.107,"y":3.3},{"s":"650","t":209.12,"y":5.5},{"s":"650","t":209.137,"y":10.3},{"s":"650","t":209.155,"y":9.1},{"s":"650","t":209.173,"y":4.9},{"s":"650","t":209.19,"y":2.7},{"s":"650","t":209.208,"y":4.9},{"s":"650","t":209.225,"y":6.1},{"s":"650","t":209.252,"y":3.8},{"s":"650","t":209.278,"y":4.4},{"s":"650","t":209.305,"y":5.2},{"s":"650","t":209.331,"y":5.9},{"s":"650","t":209.357,"y":5.5},{"s":"650","t":209.384,"y":3.8},{"s":"650","t":209.41,"y":2.7},{"s":"650","t":209.454,"y":1.85},{"s":"650","t":209.498,"y":1.6},{"s":"650","t":209.551,"y":2.7},{"s":"650","t":209.586,"y":1.5},{"s":"650","t":209.7,"y":1.3},{"s":"650","t":211.66,"y":1.2},
      {"s":"800","t":208.536,"y":2.1},{"s":"800","t":208.882,"y":2.1},{"s":"800","t":208.908,"y":2.7},{"s":"800","t":208.935,"y":3.5},{"s":"800","t":208.961,"y":4.4},{"s":"800","t":208.987,"y":6.6},{"s":"800","t":209.023,"y":10},{"s":"800","t":209.049,"y":12.8},{"s":"800","t":209.076,"y":14.2},{"s":"800","t":209.102,"y":16.7},{"s":"800","t":209.129,"y":19.5},{"s":"800","t":209.15,"y":22.3},{"s":"800","t":209.168,"y":23.6},{"s":"800","t":209.186,"y":22.9},{"s":"800","t":209.203,"y":19},{"s":"800","t":209.221,"y":13.3},{"s":"800","t":209.234,"y":7.7},{"s":"800","t":209.247,"y":3.3},{"s":"800","t":209.26,"y":2.7},{"s":"800","t":209.278,"y":6.6},{"s":"800","t":209.291,"y":8},{"s":"800","t":209.305,"y":6.6},{"s":"800","t":209.322,"y":3.3},{"s":"800","t":209.34,"y":2.4},{"s":"800","t":209.366,"y":3.8},{"s":"800","t":209.393,"y":5.5},{"s":"800","t":209.41,"y":5},{"s":"800","t":209.437,"y":3.3},{"s":"800","t":209.463,"y":2.4},{"s":"800","t":209.498,"y":3.3},{"s":"800","t":209.542,"y":4.1},{"s":"800","t":209.586,"y":4.2},{"s":"800","t":209.65,"y":4.2},{"s":"800","t":209.77,"y":3.1},{"s":"800","t":209.9,"y":2.2},{"s":"800","t":210.0,"y":1.3},{"s":"800","t":210.5,"y":1.0},{"s":"800","t":211.66,"y":1.2},
      {"s":"950","t":208.536,"y":1.8},{"s":"950","t":208.935,"y":1.85},{"s":"950","t":208.987,"y":2.7},{"s":"950","t":209.04,"y":4.9},{"s":"950","t":209.076,"y":6.9},{"s":"950","t":209.111,"y":8.9},{"s":"950","t":209.146,"y":10.3},{"s":"950","t":209.181,"y":11.4},{"s":"950","t":209.225,"y":11.9},{"s":"950","t":209.252,"y":13.3},{"s":"950","t":209.278,"y":15.6},{"s":"950","t":209.296,"y":17.8},{"s":"950","t":209.314,"y":19.1},{"s":"950","t":209.327,"y":18.7},{"s":"950","t":209.34,"y":16.2},{"s":"950","t":209.357,"y":11.1},{"s":"950","t":209.371,"y":6.1},{"s":"950","t":209.384,"y":3.3},{"s":"950","t":209.401,"y":2.1},{"s":"950","t":209.419,"y":4.4},{"s":"950","t":209.437,"y":6.6},{"s":"950","t":209.454,"y":6.1},{"s":"950","t":209.472,"y":3.8},{"s":"950","t":209.49,"y":2.1},{"s":"950","t":209.507,"y":1.3},{"s":"950","t":209.533,"y":2.1},{"s":"950","t":209.56,"y":3.3},{"s":"950","t":209.595,"y":3.7},{"s":"950","t":209.621,"y":2.7},{"s":"950","t":209.7,"y":2.8},{"s":"950","t":210.2,"y":2.8},{"s":"950","t":210.35,"y":2.6},{"s":"950","t":210.45,"y":1.2},{"s":"950","t":211.66,"y":1.2}
    ]
  },
  "vconcat": [
    {
      "width": 1156,
      "height": 235,
      "layer": [
        {
          "layer": [
            {
              "data": {"name": "vel"},
              "mark": {"type": "line", "interpolate": "monotone", "strokeWidth": 1.2, "clip": true},
              "encoding": {
                "x": {"field": "t", "type": "quantitative", "scale": {"domain": [208.536, 211.66], "nice": false, "zero": false}, "axis": {"values": [209, 209.5, 210, 210.5, 211, 211.5], "format": "~g", "title": null}},
                "y": {"field": "y", "type": "quantitative", "scale": {"domain": [274.2, 1424.5], "nice": false, "zero": false}, "axis": {"values": [400, 600, 800, 1000, 1200, 1400], "format": "d", "title": "km/s", "titleX": -93.4, "titleY": 117.5, "titleAngle": -90, "titleBaseline": "alphabetic", "titleAlign": "center"}},
                "color": {"field": "s", "type": "nominal", "scale": {"domain": ["ACE", "350", "500", "650", "800", "950"], "range": ["#0000ff", "#ff0000", "#000000", "#00ff00", "#ff00ff", "#ffff00"]}, "legend": null}
              }
            },
            {
              "data": {"name": "crossings"},
              "mark": {"type": "rule", "color": "#0000ff", "strokeDash": [1, 2.5], "strokeWidth": 1},
              "encoding": {"x": {"field": "t", "type": "quantitative"}}
            }
          ]
        },
        {
          "data": {"name": "legendRows"},
          "encoding": {
            "y": {"field": "s", "type": "nominal", "scale": {"type": "point", "padding": 0, "domain": ["ACE", "350", "500", "650", "800", "950"], "range": [-19.9, 247.6]}, "axis": null}
          },
          "layer": [
            {
              "mark": {"type": "rule", "strokeWidth": 1.2},
              "encoding": {
                "x": {"datum": 0.062, "type": "quantitative", "scale": {"domain": [0, 1], "range": [1185.2, 1452.5]}, "axis": null},
                "x2": {"datum": 0.4104},
                "color": {"field": "s", "type": "nominal", "legend": null}
              }
            },
            {
              "transform": [{"filter": "datum.s === 'ACE'"}],
              "mark": {"type": "text", "align": "left", "baseline": "alphabetic", "fontSize": 29, "dy": 15, "color": "#000000"},
              "encoding": {"x": {"datum": 0.4451, "type": "quantitative"}, "text": {"field": "a"}}
            },
            {
              "transform": [{"filter": "datum.s !== 'ACE'"}],
              "mark": {"type": "text", "align": "left", "baseline": "alphabetic", "fontSize": 29, "dy": 1.7, "color": "#000000"},
              "encoding": {"x": {"datum": 0.4451, "type": "quantitative"}, "text": {"field": "a"}}
            },
            {
              "transform": [{"filter": "datum.s !== 'ACE'"}],
              "mark": {"type": "text", "align": "left", "baseline": "alphabetic", "fontSize": 26, "dy": 14.7, "color": "#000000"},
              "encoding": {"x": {"datum": 0.587, "type": "quantitative"}, "text": {"field": "b"}}
            },
            {
              "transform": [{"filter": "datum.s !== 'ACE'"}],
              "mark": {"type": "text", "align": "left", "baseline": "alphabetic", "fontSize": 29, "dy": 1.7, "color": "#000000"},
              "encoding": {"x": {"datum": 0.71, "type": "quantitative"}, "text": {"field": "c"}}
            }
          ]
        },
        {
          "data": {"values": [{}]},
          "layer": [
            {
              "mark": {"type": "rule", "color": "#000000", "strokeWidth": 1},
              "encoding": {
                "x": {"datum": 0, "type": "quantitative", "scale": {"domain": [0, 1], "range": [1185.2, 1452.5]}, "axis": null},
                "y": {"datum": 0, "type": "quantitative", "scale": {"domain": [0, 1], "range": [-31.2, 277.3]}, "axis": null},
                "y2": {"datum": 1}
              }
            },
            {
              "mark": {"type": "rule", "color": "#000000", "strokeWidth": 1},
              "encoding": {
                "x": {"datum": 0, "type": "quantitative"},
                "x2": {"datum": 1},
                "y": {"datum": 1, "type": "quantitative"}
              }
            }
          ]
        }
      ],
      "resolve": {"scale": {"x": "independent", "y": "independent"}}
    },
    {
      "width": 1183,
      "height": 238.3,
      "layer": [
        {
          "layer": [
            {
              "data": {"name": "dens"},
              "mark": {"type": "line", "interpolate": "monotone", "strokeWidth": 1.2, "clip": true},
              "encoding": {
                "x": {"field": "t", "type": "quantitative", "scale": {"domain": [208.536, 211.66], "nice": false, "zero": false}, "axis": {"values": [209, 209.5, 210, 210.5, 211, 211.5], "format": "~g", "title": null}},
                "y": {"field": "y", "type": "quantitative", "scale": {"domain": [-0.66, 157.7], "nice": false, "zero": false}, "axis": {"values": [0, 50, 100, 150], "format": "d", "title": "1/cm³", "titleX": -81, "titleY": 119.2, "titleAngle": -90, "titleBaseline": "alphabetic", "titleAlign": "center"}},
                "color": {"field": "s", "type": "nominal", "scale": {"domain": ["ACE", "350", "500", "650", "800", "950"], "range": ["#0000ff", "#ff0000", "#000000", "#00ff00", "#ff00ff", "#ffff00"]}, "legend": null}
              }
            },
            {
              "data": {"name": "crossings"},
              "mark": {"type": "rule", "color": "#0000ff", "strokeDash": [1, 2.5], "strokeWidth": 1},
              "encoding": {"x": {"field": "t", "type": "quantitative"}}
            }
          ]
        },
        {
          "data": {"name": "boxLines"},
          "encoding": {
            "y": {"field": "line", "type": "ordinal", "scale": {"type": "point", "padding": 0, "range": [264.6, 531.3]}, "axis": null}
          },
          "layer": [
            {
              "transform": [{"filter": "datum.a"}],
              "mark": {"type": "text", "align": "left", "baseline": "alphabetic", "fontSize": 29, "color": "#000000"},
              "encoding": {"x": {"datum": 0.033, "type": "quantitative", "scale": {"domain": [0, 1], "range": [1235.5, 1417.5]}, "axis": null}, "text": {"field": "a"}}
            },
            {
              "transform": [{"filter": "datum.b"}],
              "mark": {"type": "text", "align": "left", "baseline": "alphabetic", "fontSize": 26, "dy": 13, "color": "#000000"},
              "encoding": {"x": {"datum": 0.2335, "type": "quantitative"}, "text": {"field": "b"}}
            },
            {
              "transform": [{"filter": "datum.c && datum.b !== 'vel'"}],
              "mark": {"type": "text", "align": "left", "baseline": "alphabetic", "fontSize": 29, "color": "#000000"},
              "encoding": {"x": {"datum": 0.5385, "type": "quantitative"}, "text": {"field": "c"}}
            },
            {
              "transform": [{"filter": "datum.c && datum.b === 'vel'"}],
              "mark": {"type": "text", "align": "left", "baseline": "alphabetic", "fontSize": 29, "color": "#000000"},
              "encoding": {"x": {"datum": 0.4176, "type": "quantitative"}, "text": {"field": "c"}}
            },
            {
              "transform": [{"filter": "datum.full"}],
              "mark": {"type": "text", "align": "center", "baseline": "alphabetic", "fontSize": 29, "color": "#000000"},
              "encoding": {"x": {"datum": 0.5, "type": "quantitative"}, "text": {"field": "full"}}
            }
          ]
        },
        {
          "data": {"values": [{}]},
          "mark": {"type": "rect", "fillOpacity": 0, "stroke": "#000000", "strokeWidth": 1},
          "encoding": {
            "x": {"datum": 0, "type": "quantitative", "scale": {"domain": [0, 1], "range": [1235.5, 1417.5]}, "axis": null},
            "x2": {"datum": 1},
            "y": {"datum": 0, "type": "quantitative", "scale": {"domain": [0, 1], "range": [225.3, 600.3]}, "axis": null},
            "y2": {"datum": 1}
          }
        }
      ],
      "resolve": {"scale": {"x": "independent", "y": "independent"}}
    },
    {
      "width": 1183,
      "height": 236.3,
      "title": {"text": "x 10⁶", "anchor": "start", "frame": "group", "baseline": "alphabetic", "offset": 11, "dy": 29, "fontSize": 28, "fontWeight": "normal", "color": "#000000", "font": "Liberation Sans"},
      "layer": [
        {
          "data": {"name": "temp"},
          "mark": {"type": "line", "interpolate": "monotone", "strokeWidth": 1.2, "clip": true},
          "encoding": {
            "x": {"field": "t", "type": "quantitative", "scale": {"domain": [208.536, 211.66], "nice": false, "zero": false}, "axis": {"values": [209, 209.5, 210, 210.5, 211, 211.5], "format": "~g", "title": null}},
            "y": {"field": "y", "type": "quantitative", "scale": {"domain": [-0.045, 6.332], "nice": false, "zero": false}, "axis": {"values": [0, 2, 4, 6], "format": "d", "title": "K", "titleX": -45.5, "titleY": 118.2, "titleAngle": -90, "titleBaseline": "alphabetic", "titleAlign": "center"}},
            "color": {"field": "s", "type": "nominal", "scale": {"domain": ["ACE", "350", "500", "650", "800", "950"], "range": ["#0000ff", "#ff0000", "#000000", "#00ff00", "#ff00ff", "#ffff00"]}, "legend": null}
          }
        },
        {
          "data": {"name": "crossings"},
          "mark": {"type": "rule", "color": "#0000ff", "strokeDash": [1, 2.5], "strokeWidth": 1},
          "encoding": {"x": {"field": "t", "type": "quantitative"}}
        }
      ]
    },
    {
      "width": 1183,
      "height": 235,
      "layer": [
        {
          "data": {"name": "mag"},
          "mark": {"type": "line", "interpolate": "monotone", "strokeWidth": 1.2, "clip": true},
          "encoding": {
            "x": {"field": "t", "type": "quantitative", "scale": {"domain": [208.536, 211.66], "nice": false, "zero": false}, "axis": {"values": [209, 209.5, 210, 210.5, 211, 211.5], "format": "~g", "title": null}},
            "y": {"field": "y", "type": "quantitative", "scale": {"domain": [-0.555, 38.98], "nice": false, "zero": false}, "axis": {"values": [0, 10, 20, 30], "format": "d", "title": "nT", "titleX": -60.1, "titleY": 121.5, "titleAngle": -90, "titleBaseline": "alphabetic", "titleAlign": "center"}},
            "color": {"field": "s", "type": "nominal", "scale": {"domain": ["ACE", "350", "500", "650", "800", "950"], "range": ["#0000ff", "#ff0000", "#000000", "#00ff00", "#ff00ff", "#ffff00"]}, "legend": null}
          }
        },
        {
          "data": {"name": "crossings"},
          "mark": {"type": "rule", "color": "#0000ff", "strokeDash": [1, 2.5], "strokeWidth": 1},
          "encoding": {"x": {"field": "t", "type": "quantitative"}}
        }
      ]
    }
  ]
}
